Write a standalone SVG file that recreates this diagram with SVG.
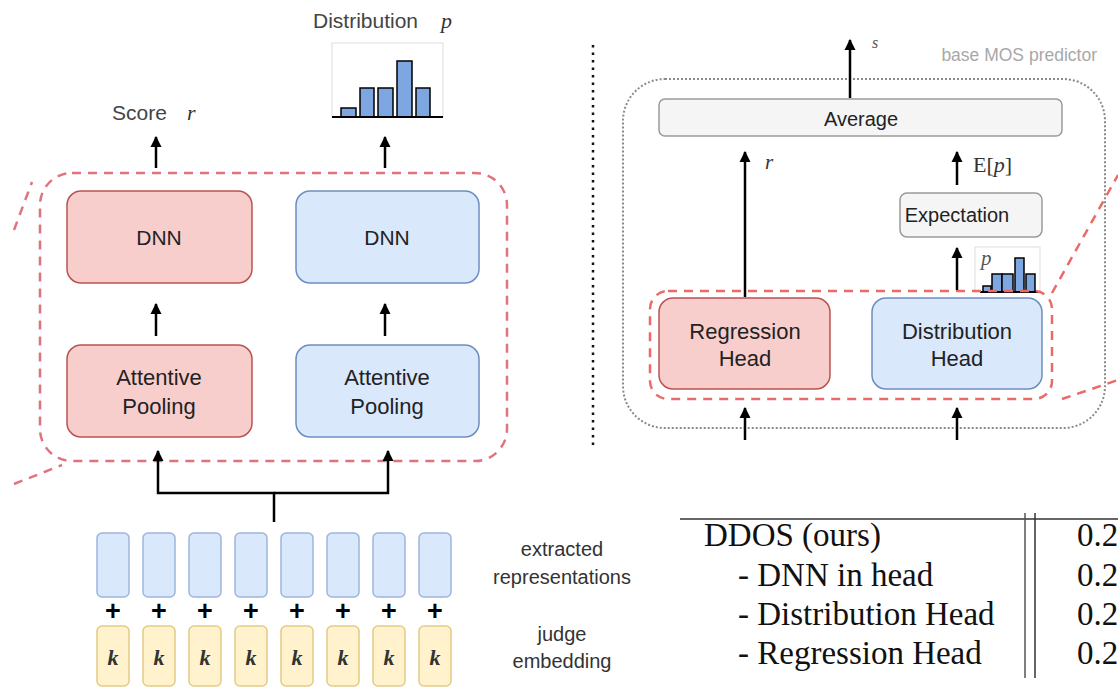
<svg xmlns="http://www.w3.org/2000/svg" width="1118" height="689" viewBox="0 0 1118 689">
<defs>
<style>
.sans{font-family:"Liberation Sans",Arial,sans-serif;}
.serif{font-family:"Liberation Serif","Times New Roman",serif;}
.math{font-family:"Liberation Serif","Times New Roman",serif;font-style:italic;}
.red{fill:#f8cecc;stroke:#b85450;stroke-width:1.5;}
.blue{fill:#dae8fc;stroke:#6c8ebf;stroke-width:1.5;}
.gray{fill:#f5f5f5;stroke:#9a9a9a;stroke-width:1.5;}
.yel{fill:#fff2cc;stroke:#e3cc85;stroke-width:1.5;}
.rep{fill:#dae8fc;stroke:#9db5dc;stroke-width:1.5;}
.lbl{fill:#222;text-anchor:middle;}
.arr{stroke:#000;stroke-width:2.5;fill:none;}
.bar{fill:#7ea6e0;stroke:#000;stroke-width:1.5;}
.tbl{fill:#111;}
</style>
<marker id="ah" viewBox="0 0 10 10" refX="9" refY="5" markerWidth="11" markerHeight="12" markerUnits="userSpaceOnUse" orient="auto">
<path d="M0,0 L10,5 L0,10 z" fill="#000"/>
</marker>
</defs>
<rect width="1118" height="689" fill="#fff"/>

<g id="left-heads-frame">
<rect x="40" y="173" width="467" height="288" rx="32" fill="none" stroke="#e0737d" stroke-width="2.5" stroke-dasharray="9,7"/>
<line x1="14" y1="230" x2="32" y2="182" stroke="#e0737d" stroke-width="2.5" stroke-dasharray="9,7"/>
<line x1="14" y1="484" x2="62" y2="465" stroke="#e0737d" stroke-width="2.5" stroke-dasharray="9,7"/>
</g>

<g id="score-label">
<text x="112" y="120" class="sans" font-size="21" fill="#444">Score</text>
<text x="187" y="120" class="math" font-size="22" fill="#333">r</text>
</g>

<g id="distribution-label">
<text x="313" y="28" class="sans" font-size="21" fill="#444">Distribution</text>
<text x="441" y="28" class="math" font-size="22" fill="#333">p</text>
</g>

<g id="left-histogram">
<rect x="332" y="43" width="111" height="74" fill="#fff" stroke="#ddd" stroke-width="1"/>
<rect x="341" y="108" width="15" height="9" class="bar"/>
<rect x="360" y="88" width="14" height="29" class="bar"/>
<rect x="378" y="88" width="15" height="29" class="bar"/>
<rect x="397" y="61" width="15" height="56" class="bar"/>
<rect x="416" y="88" width="14" height="29" class="bar"/>
<line x1="332" y1="117" x2="443" y2="117" stroke="#000" stroke-width="2"/>
</g>

<g id="dnn-red">
<rect x="67" y="191" width="185" height="92" rx="14" class="red"/>
<text x="159" y="245" class="sans lbl" font-size="21">DNN</text>
</g>
<g id="dnn-blue">
<rect x="296" y="191" width="183" height="92" rx="14" class="blue"/>
<text x="387" y="245" class="sans lbl" font-size="21">DNN</text>
</g>
<g id="pool-red">
<rect x="67" y="345" width="185" height="92" rx="14" class="red"/>
<text x="159" y="385" class="sans lbl" font-size="22">Attentive</text>
<text x="159" y="414" class="sans lbl" font-size="22">Pooling</text>
</g>
<g id="pool-blue">
<rect x="296" y="345" width="183" height="92" rx="14" class="blue"/>
<text x="387" y="385" class="sans lbl" font-size="22">Attentive</text>
<text x="387" y="414" class="sans lbl" font-size="22">Pooling</text>
</g>

<g id="representations">
<rect x="97" y="533" width="32" height="64" rx="5" class="rep"/>
<rect x="143" y="533" width="32" height="64" rx="5" class="rep"/>
<rect x="189" y="533" width="32" height="64" rx="5" class="rep"/>
<rect x="235" y="533" width="32" height="64" rx="5" class="rep"/>
<rect x="281" y="533" width="32" height="64" rx="5" class="rep"/>
<rect x="327" y="533" width="32" height="64" rx="5" class="rep"/>
<rect x="373" y="533" width="32" height="64" rx="5" class="rep"/>
<rect x="419" y="533" width="32" height="64" rx="5" class="rep"/>
</g>
<g id="plus-signs" class="sans" font-size="27" font-weight="bold" fill="#000" text-anchor="middle">
<text x="113" y="620">+</text>
<text x="159" y="620">+</text>
<text x="205" y="620">+</text>
<text x="251" y="620">+</text>
<text x="297" y="620">+</text>
<text x="343" y="620">+</text>
<text x="389" y="620">+</text>
<text x="435" y="620">+</text>
</g>
<g id="judge-embeddings">
<rect x="97" y="626" width="32" height="60" rx="5" class="yel"/>
<rect x="143" y="626" width="32" height="60" rx="5" class="yel"/>
<rect x="189" y="626" width="32" height="60" rx="5" class="yel"/>
<rect x="235" y="626" width="32" height="60" rx="5" class="yel"/>
<rect x="281" y="626" width="32" height="60" rx="5" class="yel"/>
<rect x="327" y="626" width="32" height="60" rx="5" class="yel"/>
<rect x="373" y="626" width="32" height="60" rx="5" class="yel"/>
<rect x="419" y="626" width="32" height="60" rx="5" class="yel"/>
<g class="math" font-size="22" font-weight="bold" fill="#333" text-anchor="middle">
<text x="113" y="665">k</text>
<text x="159" y="665">k</text>
<text x="205" y="665">k</text>
<text x="251" y="665">k</text>
<text x="297" y="665">k</text>
<text x="343" y="665">k</text>
<text x="389" y="665">k</text>
<text x="435" y="665">k</text>
</g>
</g>
<g id="side-labels" class="sans" font-size="20" fill="#333" text-anchor="middle">
<text x="562" y="556">extracted</text>
<text x="562" y="584">representations</text>
<text x="562" y="641">judge</text>
<text x="562" y="668">embedding</text>
</g>

<line x1="593" y1="45" x2="593" y2="445" stroke="#111" stroke-width="2.5" stroke-dasharray="2.5,5"/>

<g id="base-mos-frame">
<rect x="623" y="79" width="482" height="349" rx="42" fill="none" stroke="#8a8a8a" stroke-width="2" stroke-dasharray="2,2"/>
<text x="1097" y="61" class="sans" font-size="17.5" fill="#a8a8a8" text-anchor="end">base MOS predictor</text>
</g>
<g id="s-label">
<text x="872" y="48" class="math" font-size="16" fill="#555">s</text>
</g>
<g id="average">
<rect x="659" y="99" width="403" height="37" rx="6" class="gray"/>
<text x="861" y="126" class="sans lbl" font-size="20">Average</text>
</g>
<g id="expectation">
<rect x="900" y="193" width="142" height="44" rx="7" class="gray"/>
<text x="957" y="222" class="sans lbl" font-size="20">Expectation</text>
</g>
<g id="right-histogram">
<rect x="975" y="247" width="65" height="45" fill="#fff" stroke="#ddd" stroke-width="1"/>
<text x="981" y="265" class="math" font-size="21" fill="#555">p</text>
<rect x="983" y="286" width="8" height="6" class="bar"/>
<rect x="992" y="274" width="10" height="18" class="bar"/>
<rect x="1002" y="274" width="11" height="18" class="bar"/>
<rect x="1015" y="258" width="9" height="34" class="bar"/>
<rect x="1026" y="274" width="9" height="18" class="bar"/>
<line x1="980" y1="292" x2="1040" y2="292" stroke="#000" stroke-width="2"/>
</g>
<g id="right-heads-frame">
<rect x="650" y="291" width="402" height="108" rx="18" fill="none" stroke="#ea6b66" stroke-width="2.5" stroke-dasharray="9,7"/>
<line x1="1052" y1="293" x2="1118" y2="175" stroke="#ea6b66" stroke-width="2.5" stroke-dasharray="9,7"/>
<line x1="1062" y1="399" x2="1118" y2="380" stroke="#ea6b66" stroke-width="2.5" stroke-dasharray="9,7"/>
</g>
<g id="regression-head">
<rect x="659" y="298" width="171" height="91" rx="14" class="red"/>
<text x="745" y="339" class="sans lbl" font-size="22">Regression</text>
<text x="745" y="366" class="sans lbl" font-size="22">Head</text>
</g>
<g id="distribution-head">
<rect x="872" y="298" width="170" height="91" rx="14" class="blue"/>
<text x="957" y="339" class="sans lbl" font-size="22">Distribution</text>
<text x="957" y="366" class="sans lbl" font-size="22">Head</text>
</g>
<g id="edge-labels">
<text x="765" y="169" class="math" font-size="21" fill="#333">r</text>
<text x="973" y="172" class="serif" font-size="22" fill="#333">E[<tspan font-style="italic">p</tspan>]</text>
</g>

<g id="connectors" class="arr">
<line x1="156" y1="168" x2="156" y2="137" marker-end="url(#ah)"/>
<line x1="385" y1="168" x2="385" y2="137" marker-end="url(#ah)"/>
<line x1="156" y1="336" x2="156" y2="304" marker-end="url(#ah)"/>
<line x1="385" y1="336" x2="385" y2="304" marker-end="url(#ah)"/>
<polyline points="274,522 274,493 158,493 158,451" marker-end="url(#ah)"/>
<polyline points="274,493 388,493 388,451" marker-end="url(#ah)"/>
<line x1="850" y1="98" x2="850" y2="40" marker-end="url(#ah)"/>
<line x1="745" y1="297" x2="745" y2="152" marker-end="url(#ah)"/>
<line x1="957" y1="185" x2="957" y2="152" marker-end="url(#ah)"/>
<line x1="957" y1="290" x2="957" y2="248" marker-end="url(#ah)"/>
<line x1="745" y1="440" x2="745" y2="408" marker-end="url(#ah)"/>
<line x1="957" y1="440" x2="957" y2="408" marker-end="url(#ah)"/>
</g>

<g id="table">
<line x1="680" y1="519" x2="1118" y2="519" stroke="#333" stroke-width="1.5"/>
<line x1="1025" y1="513" x2="1025" y2="678" stroke="#555" stroke-width="1.5"/>
<line x1="1035" y1="513" x2="1035" y2="678" stroke="#333" stroke-width="1.5"/>
<g class="serif tbl" font-size="33">
<text x="704" y="546">DDOS (ours)</text>
<text x="738" y="586">- DNN in head</text>
<text x="738" y="625">- Distribution Head</text>
<text x="738" y="664">- Regression Head</text>
<text x="1077" y="546">0.2</text>
<text x="1077" y="586">0.2</text>
<text x="1077" y="625">0.2</text>
<text x="1077" y="664">0.2</text>
</g>
</g>
</svg>
